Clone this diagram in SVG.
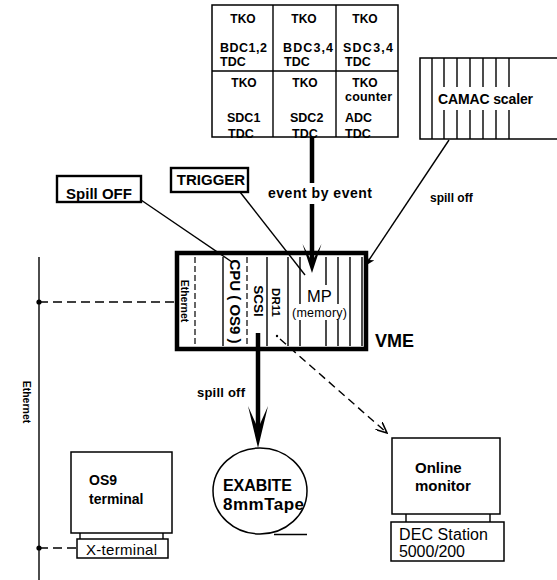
<svg xmlns="http://www.w3.org/2000/svg" width="557" height="580" viewBox="0 0 557 580">
<style>
.b{font-family:"Liberation Sans",Arial,sans-serif;font-weight:bold;fill:#000}
.r{font-family:"Liberation Sans",Arial,sans-serif;fill:#000}
.box{fill:#fff;stroke:#000;stroke-width:1.5}
.thick{fill:#fff;stroke:#000;stroke-width:2.4}
.ln{stroke:#000;stroke-width:1.4;fill:none}
.dl{stroke:#000;stroke-width:1.2;fill:none;stroke-dasharray:6 3}
.t12{font-size:12px}.t13{font-size:13px}.t125{font-size:12.5px}
</style>
<defs>
<marker id="open" viewBox="0 0 12 10" refX="11" refY="5" markerWidth="12" markerHeight="10" markerUnits="userSpaceOnUse" orient="auto"><path d="M0,0 L11,5 L0,10" fill="none" stroke="#000" stroke-width="1.6"/></marker>
<marker id="barb" viewBox="0 0 12 10" refX="11" refY="5" markerWidth="11" markerHeight="9" markerUnits="userSpaceOnUse" orient="auto"><path d="M0,0 L11,5 L0,10 L3,5 Z" fill="#000"/></marker>
</defs>
<rect width="557" height="580" fill="#fff"/>

<g id="tko-grid">
<rect x="212" y="5" width="186" height="132" class="box" stroke-width="1.8"/>
<line x1="273" y1="5" x2="273" y2="137" class="ln" stroke-width="1.8"/>
<line x1="336" y1="5" x2="336" y2="137" class="ln" stroke-width="1.8"/>
<line x1="212" y1="71" x2="398" y2="71" class="ln" stroke-width="1.8"/>
<g class="b t12" text-anchor="middle">
<text x="243" y="22.5">TKO</text><text x="304" y="22.5">TKO</text><text x="365" y="22.5">TKO</text>
<text x="244" y="86.5">TKO</text><text x="305" y="86.5">TKO</text><text x="365" y="86.5">TKO</text>
</g>
<g class="b t125">
<text x="220" y="52" textLength="47">BDC1,2</text><text x="220" y="65.5">TDC</text>
<text x="283" y="52" textLength="50">BDC3,4</text><text x="284" y="65.5">TDC</text>
<text x="343" y="52" textLength="50">SDC3,4</text><text x="345" y="65.5">TDC</text>
<text x="227" y="121.5">SDC1</text><text x="228" y="137.5">TDC</text>
<text x="290" y="121.5">SDC2</text><text x="292" y="137.5">TDC</text>
<text x="345" y="101" textLength="47">counter</text><text x="345" y="121.5">ADC</text><text x="345" y="137.5">TDC</text>
</g>
</g>

<g id="camac-scaler">
<rect x="420" y="58" width="145" height="81" class="box" stroke-width="1.3"/>
<line x1="432" y1="58" x2="432" y2="139" class="ln" stroke-width="1.2"/>
<g class="ln" stroke-width="1.2">
<path d="M444,58V87M444,110V139M457,58V87M457,110V139M470,58V87M470,110V139M483,58V87M483,110V139M496,58V87M496,110V139M509,58V87M509,110V139"/>
</g>
<text x="438" y="104" class="b" font-size="14" textLength="95">CAMAC scaler</text>
</g>

<g id="spill-off-box">
<rect x="57" y="176" width="84" height="26" class="thick"/>
<text x="99" y="198.5" class="b" font-size="15" text-anchor="middle">Spill OFF</text>
</g>

<g id="trigger-box">
<rect x="171" y="168" width="77" height="24" class="thick"/>
<text x="211" y="184.5" class="b" font-size="15" text-anchor="middle">TRIGGER</text>
</g>

<g id="vme">
<rect x="177" y="253" width="189" height="96" fill="#fff" stroke="#000" stroke-width="4.5"/>
<line x1="195" y1="257" x2="195" y2="346" class="dl"/>
<line x1="223" y1="257" x2="223" y2="346" class="ln" stroke-width="1.3"/>
<line x1="247" y1="257" x2="247" y2="346" class="dl"/>
<g class="ln" stroke-width="1.2">
<path d="M267,257V346M288,257V346M300,257V304M300,320V346M326,257V285M326,320V346M338,257V304M338,320V346M350,257V346M362,257V346"/>
</g>
<text x="185" y="301" class="b" font-size="10.5" text-anchor="middle" dominant-baseline="central" transform="rotate(90 185 301)">Ethernet</text>
<text x="235" y="301.5" class="b" font-size="15" text-anchor="middle" dominant-baseline="central" transform="rotate(90 235 301.5)">CPU ( OS9 )</text>
<text x="258" y="301" class="b" font-size="13.5" text-anchor="middle" dominant-baseline="central" transform="rotate(90 258 301)">SCSI</text>
<text x="276" y="302.5" class="b" font-size="11.5" text-anchor="middle" dominant-baseline="central" transform="rotate(90 276 302.5)">DR11</text>
<text x="307" y="302" class="r" font-size="16.5">MP</text>
<text x="292" y="317" class="r" font-size="12.5" textLength="55">(memory)</text>
<text x="375" y="346.5" class="b" font-size="18">VME</text>
</g>

<g id="exabite">
<ellipse cx="260" cy="491" rx="47" ry="43" class="box"/>
<line x1="274" y1="534.5" x2="307" y2="534.5" class="ln" stroke-width="1.5"/>
<text x="223" y="491" class="b" font-size="16" textLength="69">EXABITE</text>
<text x="223" y="510" class="b" font-size="17" textLength="81">8mmTape</text>
</g>

<g id="online-monitor">
<rect x="392" y="438" width="108" height="76" class="box"/>
<line x1="406" y1="514" x2="406" y2="522" class="ln" stroke-width="1.2"/>
<line x1="490" y1="514" x2="490" y2="522" class="ln" stroke-width="1.2"/>
<rect x="391" y="522" width="113" height="39" class="box"/>
<text x="415" y="473" class="b" font-size="15">Online</text>
<text x="415" y="491" class="b" font-size="15">monitor</text>
<text x="399" y="540" class="r" font-size="16" textLength="89">DEC Station</text>
<text x="399" y="557" class="r" font-size="16" textLength="66">5000/200</text>
</g>

<g id="os9-terminal">
<rect x="71" y="452" width="101" height="81" class="box"/>
<line x1="80" y1="533" x2="80" y2="539" class="ln" stroke-width="1.2"/>
<line x1="163" y1="533" x2="163" y2="539" class="ln" stroke-width="1.2"/>
<rect x="77" y="539" width="91" height="19" class="box"/>
<text x="89" y="485" class="b" font-size="14">OS9</text>
<text x="89" y="504" class="b" font-size="14">terminal</text>
<text x="86" y="554.5" class="r" font-size="15" textLength="71">X-terminal</text>
</g>

<g id="ethernet-bus">
<line x1="39" y1="257" x2="39" y2="580" class="ln" stroke-width="1.5"/>
<text x="27" y="402" class="b" font-size="10.5" text-anchor="middle" dominant-baseline="central" transform="rotate(90 27 402)">Ethernet</text>
<circle cx="39" cy="302" r="2.6" fill="#000"/>
<circle cx="39" cy="548" r="2.6" fill="#000"/>
</g>

<g id="connectors">
<line x1="39" y1="302" x2="175" y2="302" class="ln" stroke-width="1.5" stroke-dasharray="9 5"/>
<line x1="39" y1="548" x2="77" y2="548" class="ln" stroke-width="1.5" stroke-dasharray="9 5"/>
<path d="M312,137V183M312,204V262" stroke="#000" stroke-width="4.5" fill="none"/>
<polygon points="312,273 302.5,244 310,258 314,258 321.5,244" fill="#000"/>
<text x="268" y="198" class="b" font-size="14" textLength="104">event by event</text>
<line x1="141" y1="200" x2="232" y2="262" class="ln" stroke-width="1.5"/>
<line x1="240" y1="192" x2="305" y2="275" class="ln" stroke-width="1.8"/>
<line x1="449" y1="140" x2="365" y2="266" class="ln" stroke-width="1.5" marker-end="url(#barb)"/>
<text x="430" y="201.5" class="b t12">spill off</text>
<line x1="258" y1="333" x2="258" y2="425" stroke="#000" stroke-width="4.5"/>
<polygon points="258,448 248,406 256,424 260,424 268,406" fill="#000"/>
<text x="197" y="396.5" class="b t13" textLength="48">spill off</text>
<circle cx="277" cy="336" r="1.2" fill="#000"/>
<line x1="280" y1="339" x2="387" y2="433" class="ln" stroke-width="1.6" stroke-dasharray="8 5" marker-end="url(#open)"/>
</g>
</svg>
